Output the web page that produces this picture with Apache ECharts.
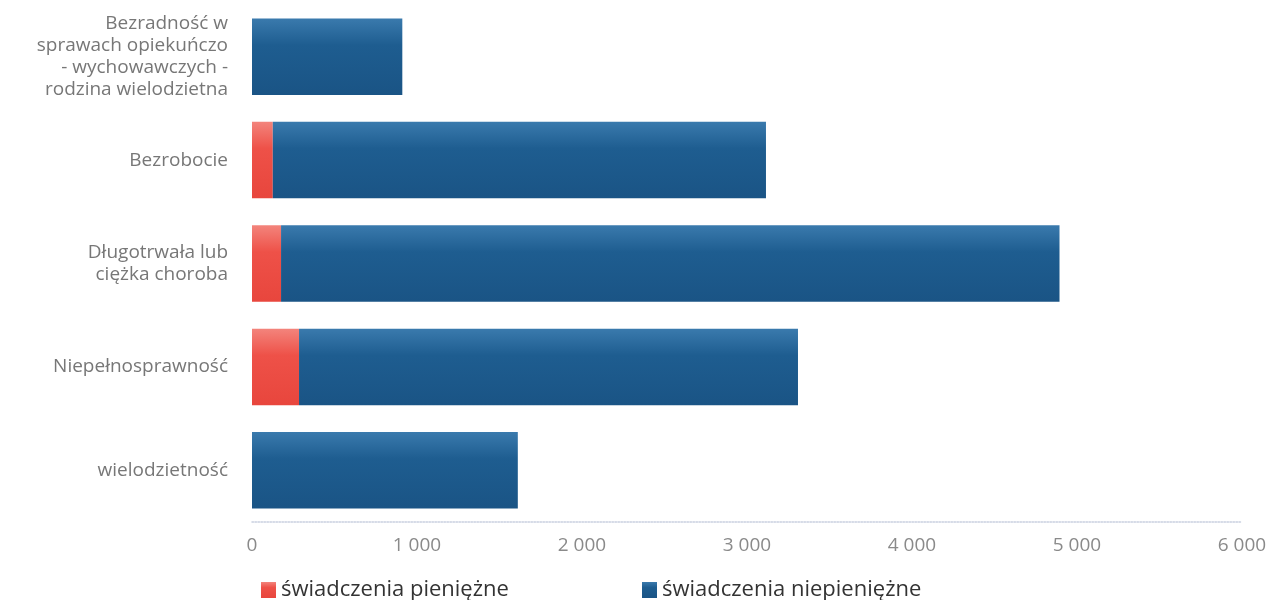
<!DOCTYPE html>
<html>
<head>
<meta charset="utf-8">
<script src="https://cdn.jsdelivr.net/npm/echarts@6/dist/echarts.min.js"></script>
<style>
html,body{margin:0;padding:0;background:#fff;}
#c{width:1274px;height:600px;}
</style>
</head>
<body>
<div id="c"></div>
<script>
var categories = [
  'Bezradność w\nsprawach opiekuńczo\n- wychowawczych -\nrodzina wielodzietna',
  'Bezrobocie',
  'Długotrwała lub\nciężka choroba',
  'Niepełnosprawność',
  'wielodzietność'
];
var seriesNames = ['świadczenia pieniężne', 'świadczenia niepieniężne'];
var pieniezne = [0, 126, 176, 285, 0];
var niepieniezne = [911, 2989, 4718, 3024, 1611];
var xTicks = [0, 1000, 2000, 3000, 4000, 5000, 6000];

var chart = echarts.init(document.getElementById('c'));
var font = '"Open Sans", "Noto Sans", sans-serif';
function grad(top, mid, bot) {
  return new echarts.graphic.LinearGradient(0, 0, 0, 1, [
    {offset: 0, color: top}, {offset: 0.35, color: mid}, {offset: 1, color: bot}
  ]);
}
chart.setOption({
  animation: false,
  textStyle: {fontFamily: font},
  grid: {left: 252, right: 32, top: 5, bottom: 78},
  legend: [
    {data: [seriesNames[0]], left: 256, top: 574, itemWidth: 15, itemHeight: 16, itemGap: 8,
     icon: 'rect', textStyle: {fontSize: 22, color: '#333', fontFamily: font}},
    {data: [seriesNames[1]], left: 637, top: 574, itemWidth: 15, itemHeight: 16, itemGap: 8,
     icon: 'rect', textStyle: {fontSize: 22, color: '#333', fontFamily: font}}
  ],
  xAxis: {
    type: 'value', min: xTicks[0], max: xTicks[xTicks.length - 1], interval: 1000,
    axisLine: {show: true, lineStyle: {color: '#c9d0e0', type: 'dotted', width: 1.5}},
    axisTick: {show: false},
    splitLine: {show: false},
    axisLabel: {
      fontSize: 19, color: '#8a8a8a', margin: 14, fontFamily: font,
      formatter: function (v) { return String(v).replace(/\B(?=(\d{3})+(?!\d))/g, ' '); }
    }
  },
  yAxis: {
    type: 'category', data: categories, inverse: true,
    axisLine: {show: false}, axisTick: {show: false},
    axisLabel: {fontSize: 19, color: '#777', margin: 24, lineHeight: 22, align: 'right', fontFamily: font}
  },
  series: [
    {
      name: seriesNames[0], type: 'bar', stack: 'a', data: pieniezne, barCategoryGap: '26%',
      itemStyle: {color: grad('#f3847c', '#ee5148', '#e8463d')}
    },
    {
      name: seriesNames[1], type: 'bar', stack: 'a', data: niepieniezne, barCategoryGap: '26%',
      itemStyle: {color: grad('#3a7aad', '#1e5d90', '#1a5485')}
    }
  ]
});
</script>
</body>
</html>
